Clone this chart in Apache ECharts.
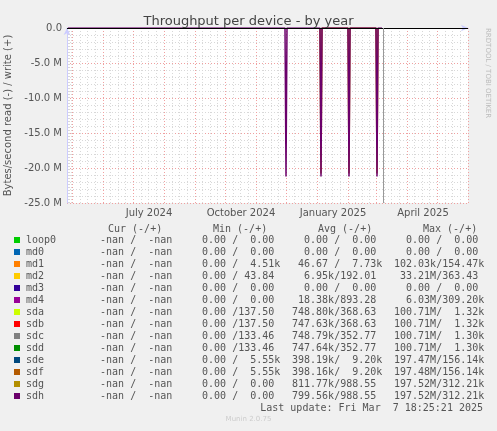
<!DOCTYPE html>
<html><head><meta charset="utf-8">
<script src="https://cdn.jsdelivr.net/npm/echarts@6/dist/echarts.min.js"></script>
<style>html,body{margin:0;padding:0;background:#f0f0f0}#c{width:497px;height:431px}</style>
</head><body><div id="c"></div>
<script>
const names=['loop0','md0','md1','md2','md3','md4','sda','sdb','sdc','sdd','sde','sdf','sdg','sdh'];
const colors=['#00cc00','#0066b3','#ff8000','#ffcc00','#330099','#990099','#ccff00','#ff0000','#808080','#008f00','#00487d','#b35a00','#b38f00','#6b006b'];
const curVals=names.map(()=>['-nan','-nan']);
const minVals=[['0.00','0.00'],['0.00','0.00'],['0.00','4.51k'],['0.00','43.84'],['0.00','0.00'],['0.00','0.00'],['0.00','137.50'],['0.00','137.50'],['0.00','133.46'],['0.00','133.46'],['0.00','5.55k'],['0.00','5.55k'],['0.00','0.00'],['0.00','0.00']];
const avgVals=[['0.00','0.00'],['0.00','0.00'],['46.67','7.73k'],['6.95k','192.01'],['0.00','0.00'],['18.38k','893.28'],['748.80k','368.63'],['747.63k','368.63'],['748.79k','352.77'],['747.64k','352.77'],['398.19k','9.20k'],['398.16k','9.20k'],['811.77k','988.55'],['799.56k','988.55']];
const maxVals=[['0.00','0.00'],['0.00','0.00'],['102.03k','154.47k'],['33.21M','363.43'],['0.00','0.00'],['6.03M','309.20k'],['100.71M','1.32k'],['100.71M','1.32k'],['100.71M','1.30k'],['100.71M','1.30k'],['197.47M','156.14k'],['197.48M','156.14k'],['197.52M','312.21k'],['197.52M','312.21k']];
// spikes (read, negative)
const sdhDates=['2024-04-27','2024-11-30','2024-12-01','2024-12-02','2025-01-04','2025-01-05','2025-01-06','2025-02-01','2025-02-02','2025-02-03','2025-03-01','2025-03-02','2025-03-03','2025-03-07'];
const sdhRead=[0,0,-21.2e6,0,0,-21.2e6,0,0,-21.2e6,0,0,-21.2e6,0,0];
const sdfDates=['2025-01-04','2025-01-05','2025-01-06','2025-02-01','2025-02-02','2025-02-03','2025-03-01','2025-03-02','2025-03-03'];
const sdfRead=[0,-20.8e6,0,0,-20.8e6,0,0,-20.8e6,0];

function side(s,right){let m=s.match(/^([-\d.nai]+)([kM]?)$/);let n=m[1],u=m[2];return n.padStart(6)+(u||(right?'':' '));}
function fld(p){return side(p[0],false)+'/'+side(p[1],true);}
const mono='DejaVu Sans Mono';
const g=[];
const hdr=[['Cur (-/+)',108],['Min (-/+)',213],['Avg (-/+)',318],['Max (-/+)',423]];
hdr.forEach(h=>g.push({type:'text',left:h[1],top:224,style:{text:h[0],font:'10px '+mono,fill:'#555'}}));
names.forEach((n,i)=>{
  const y=235+i*12;
  g.push({type:'rect',shape:{x:14,y:y+2,width:6,height:6},style:{fill:colors[i]}});
  g.push({type:'text',left:26,top:y,style:{text:n,font:'10px '+mono,fill:'#555'}});
  [[curVals,88],[minVals,190],[avgVals,292],[maxVals,394]].forEach(c=>g.push({type:'text',left:c[1],top:y,style:{text:fld(c[0][i]),font:'10px '+mono,fill:'#555'}}));
});
g.push({type:'text',right:14,top:403,style:{text:'Last update: Fri Mar  7 18:25:21 2025',font:'10px '+mono,fill:'#555'}});
g.push({type:'text',left:'center',top:416,style:{text:'Munin 2.0.75',font:'7px "DejaVu Sans"',fill:'#ccc'}});
g.push({type:'text',left:484,top:28,rotation:-Math.PI/2,style:{text:'RRDTOOL / TOBI OETIKER',font:'7px "DejaVu Sans"',fill:'#bbb'}});

const chart=echarts.init(document.getElementById('c'));
chart.setOption({
  backgroundColor:'#f0f0f0',animation:false,
  title:{text:'Throughput per device - by year',left:'center',top:10,textStyle:{fontFamily:'DejaVu Sans',fontSize:13,fontWeight:'normal',color:'#444'}},
  grid:{left:67,right:29,top:28,bottom:228,backgroundColor:'#fff',show:true,borderWidth:0,containLabel:false,outerBoundsMode:'none'},
  xAxis:{type:'time',min:'2024-04-26',max:'2025-06-01',minInterval:28*864e5,maxInterval:31*864e5,
    axisLine:{lineStyle:{color:'#ccccff'},symbol:['none','arrow'],symbolSize:[5,7]},axisTick:{show:false},
    axisLabel:{fontFamily:'DejaVu Sans',fontSize:10,color:'#555',margin:5,padding:[0,0,0,32],hideOverlap:false,
      formatter:function(v){const d=new Date(v);const m=d.getMonth();const n=['January','','','April','','','July','','','October','',''];return n[m]?n[m]+' '+d.getFullYear():'';}},
    splitLine:{show:true,lineStyle:{color:'#f0a0a0',type:[1,2]}},
    minorTick:{show:false,splitNumber:4},minorSplitLine:{show:true,lineStyle:{color:'#d8d8d8',type:[1,2]}}},
  yAxis:{type:'value',min:-25e6,max:0,interval:5e6,name:'Bytes/second read (-) / write (+)',nameLocation:'middle',nameGap:54,
    nameTextStyle:{fontFamily:'DejaVu Sans',fontSize:10,color:'#555'},
    axisLine:{show:true,lineStyle:{color:'#ccccff'},symbol:['none','arrow'],symbolSize:[5,7]},axisTick:{show:false},
    axisLabel:{fontFamily:'DejaVu Sans',fontSize:10,color:'#555',margin:5,formatter:v=>v===0?'0.0':(v/1e6).toFixed(1)+' M'},
    splitLine:{show:true,lineStyle:{color:'#f0a0a0',type:[1,2]}},
    minorTick:{show:false,splitNumber:5},minorSplitLine:{show:true,lineStyle:{color:'#d8d8d8',type:[1,2]}}},
  series:[
    {type:'line',name:'sdf',data:sdfDates.map((d,i)=>[d,sdfRead[i]]),symbol:'none',lineStyle:{color:colors[11],width:1.5},z:2},
    {type:'line',name:'sdh',data:sdhDates.map((d,i)=>[d,sdhRead[i]]),symbol:'none',lineStyle:{color:colors[13],width:1.5},z:3,
     markLine:{silent:true,symbol:'none',label:{show:false},data:[{yAxis:0,lineStyle:{color:'#000',width:1,type:'solid'}},{xAxis:'2025-03-08',lineStyle:{color:'#999',width:1,type:'solid'}}]}}
  ],
  graphic:g
});
</script></body></html>
